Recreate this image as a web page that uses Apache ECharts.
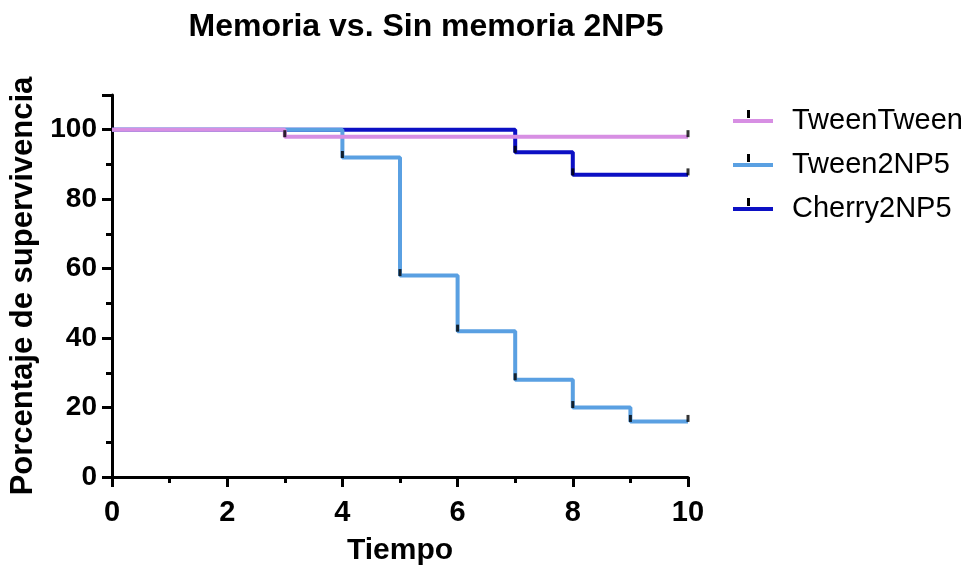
<!DOCTYPE html>
<html><head><meta charset="utf-8">
<script src="https://cdn.jsdelivr.net/npm/echarts@6/dist/echarts.min.js"></script>
<style>html,body{margin:0;padding:0;background:#fff}#c{width:979px;height:572px}</style>
</head><body><div id="c"></div>
<script>
// Kaplan-Meier steps: [time, survival %]
const seriesNames = ['TweenTween', 'Tween2NP5', 'Cherry2NP5'];
const tweenTween = [[0,100],[3,98],[10,98]];
const tween2NP5 = [[0,100],[4,92],[5,58],[6,42],[7,28],[8,20],[9,16],[10,16]];
const cherry2NP5 = [[0,100],[7,93.5],[8,87],[10,87]];
// censor marks
const censTweenTween = [[3,98],[10,98]];
const censTween2NP5 = [[4,92],[5,58],[6,42],[7,28],[8,20],[9,16],[10,16]];
const censCherry2NP5 = [[7,93.5],[8,87],[10,87]];
const colors = ['#d78fe3', '#5aa0e2', '#0c10c4'];

const FONT = 'Liberation Sans, Arial, sans-serif';
const chart = echarts.init(document.getElementById('c'), null, {renderer:'canvas'});
const lineS = (name, data, col, z) => ({
  name, type:'line', data, step:'end', symbol:'none', z,
  lineStyle:{color:col, width:4}, itemStyle:{color:col}
});
const censS = (data) => ({
  type:'scatter', data, symbol:'rect', symbolSize:[3,7], symbolOffset:[0,-3],
  itemStyle:{color:'#000'}, z:10, silent:true
});
chart.setOption({
  animation:false,
  title:{text:'Memoria vs. Sin memoria 2NP5', left:421, top:6, textAlign:'center',
    textStyle:{fontFamily:FONT, fontSize:32, fontWeight:'bold', color:'#000'}},
  legend:{
    data:seriesNames, orient:'vertical', left:728, top:101, itemGap:14,
    itemWidth:40, itemHeight:4, icon:'rect',
    textStyle:{fontFamily:FONT, fontSize:29, lineHeight:30, color:'#000', padding:[0,0,0,14]}
  },
  grid:{left:112, right:291, top:95, bottom:95},
  xAxis:{type:'value', min:0, max:10, interval:2,
    axisLine:{lineStyle:{color:'#000', width:3}},
    axisTick:{length:10, lineStyle:{color:'#000', width:3}},
    minorTick:{show:true, splitNumber:2, length:6, lineStyle:{color:'#000', width:3}},
    splitLine:{show:false},
    axisLabel:{fontFamily:FONT, fontSize:29, fontWeight:'bold', color:'#000', margin:21},
    name:'Tiempo', nameLocation:'middle', nameGap:59,
    nameTextStyle:{fontFamily:FONT, fontSize:30, fontWeight:'bold', color:'#000'}
  },
  yAxis:{type:'value', min:0, max:110, interval:20,
    axisLine:{show:true, lineStyle:{color:'#000', width:3}},
    axisTick:{show:true, length:10, lineStyle:{color:'#000', width:3}},
    minorTick:{show:true, splitNumber:2, length:6, lineStyle:{color:'#000', width:3}},
    splitLine:{show:false},
    axisLabel:{fontFamily:FONT, fontSize:28, fontWeight:'bold', color:'#000', margin:15,
      formatter:v => (v > 100 ? '' : v)},
    name:'Porcentaje de supervivencia', nameLocation:'middle', nameGap:73,
    nameTextStyle:{fontFamily:FONT, fontSize:31, fontWeight:'bold', color:'#000'}
  },
  series:[
    lineS(seriesNames[0], tweenTween, colors[0], 4),
    lineS(seriesNames[1], tween2NP5, colors[1], 3),
    lineS(seriesNames[2], cherry2NP5, colors[2], 2),
    censS(censTweenTween), censS(censTween2NP5), censS(censCherry2NP5)
  ],
  graphic:[0,1,2].map(i => ({type:'rect', left:747, top:110 + i*44, shape:{width:3, height:8},
    style:{fill:'#000'}, z:100}))
});
</script></body></html>
